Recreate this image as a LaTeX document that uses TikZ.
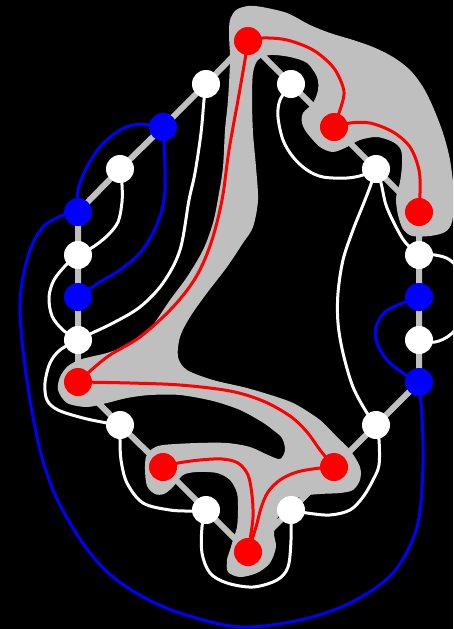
\documentclass[tikz,border=0pt]{standalone}
\definecolor{blobgray}{RGB}{191,191,191}
\definecolor{pred}{RGB}{255,0,0}
\definecolor{pblue}{RGB}{0,0,255}
\pgfdeclarelayer{back}
\pgfsetlayers{back,main}
\begin{document}
\begin{tikzpicture}[x=1pt,y=-1pt,
  vtx/.style={circle, minimum size=28pt, inner sep=0pt, draw=none},
  rv/.style={vtx, fill=pred},
  bv/.style={vtx, fill=pblue},
  wv/.style={vtx, fill=white},
  redc/.style={draw=pred, line width=3pt},
  whitec/.style={draw=white, line width=3pt},
  bluec/.style={draw=pblue, line width=3pt},
  edgeline/.style={draw=blobgray, line width=6pt, line join=round},
  smoothc/.style={smooth, tension=0.55}
]
\useasboundingbox (0,0) rectangle (453,629);
% vertices
\node[rv] (R1) at (248,41) {};
\node[wv] (W1) at (206,84) {};
\node[bv] (B1) at (163,127) {};
\node[wv] (W2) at (120,169) {};
\node[bv] (B2) at (78,212) {};
\node[wv] (W3) at (78,255) {};
\node[bv] (B3) at (78,297) {};
\node[wv] (W4) at (78,340) {};
\node[rv] (R2) at (78,382) {};
\node[wv] (W5) at (120,425) {};
\node[rv] (R3) at (163,467) {};
\node[wv] (W6) at (206,510) {};
\node[rv] (R4) at (248,552) {};
\node[wv] (W7) at (291,510) {};
\node[rv] (R5) at (334,467) {};
\node[wv] (W8) at (376,425) {};
\node[bv] (B4) at (419,382) {};
\node[wv] (W9) at (419,340) {};
\node[bv] (B5) at (419,297) {};
\node[wv] (W10) at (419,255) {};
\node[rv] (R6) at (419,212) {};
\node[wv] (W11) at (376,169) {};
\node[rv] (R7) at (334,127) {};
\node[wv] (W12) at (291,84) {};
\begin{pgfonlayer}{back}
\clip (0,0) rectangle (453,629);
\fill[black] (0,0) rectangle (453,629);
% gray region around the red tree
\fill[blobgray] plot[smooth cycle, tension=0.5] coordinates {
(230,20) (236,10) (248,6) (262,7) (287,13) (310,25) (330,33) (353,40) (373,47)
(393,57) (410,70) (423,87) (433,107) (443,133) (450,160) (454,195) (452,222)
(445,232) (430,236) (412,236) (403,229) (398,215) (396,198) (400,182) (402,165) (401,150)
(393,142) (377,137) (360,140) (347,147) (333,152) (320,147) (307,133) (302,123)
(303,113) (313,103) (318,90) (317,77) (307,63) (290,57) (270,55) (258,60)
(253,73) (252,100) (253,133) (256,167) (258,200) (253,227) (243,243) (227,267)
(207,293) (190,317) (180,337) (178,357) (187,370) (213,380) (247,388) (280,398)
(297,405) (320,420) (337,437) (350,450) (360,467) (360,480) (353,490) (340,493)
(320,494) (303,496) (288,503) (278,517) (274,533) (276,547) (270,563) (257,573)
(240,577) (228,572) (227,560) (230,550) (233,540) (237,527) (238,510) (237,493)
(230,480) (217,473) (197,472) (183,475) (173,487) (164,494) (155,494) (147,486)
(145,470) (146,457) (152,449) (163,445) (197,443) (227,443) (250,447) (268,455)
(280,459) (285,450) (282,438) (273,430) (262,422) (240,410) (213,401) (180,395)
(150,395) (127,398) (107,403) (87,407) (67,403) (58,390) (60,377) (68,366)
(82,359) (107,353) (123,347) (140,338) (153,325) (170,300) (187,277) (203,250)
(213,223) (219,193) (223,167) (225,130) (228,100) (230,60) (229,35)};
% polygon edges
\draw[edgeline] (R1.center) -- (W1.center) -- (B1.center) -- (W2.center) -- (B2.center)
  -- (W3.center) -- (B3.center) -- (W4.center) -- (R2.center) -- (W5.center)
  -- (R3.center) -- (W6.center) -- (R4.center) -- (W7.center) -- (R5.center)
  -- (W8.center) -- (B4.center) -- (W9.center) -- (B5.center) -- (W10.center)
  -- (R6.center) -- (W11.center) -- (R7.center) -- (W12.center) -- cycle;
% red connectors
\draw[redc] plot[smoothc] coordinates {(R1.center) (263,38) (287,40) (313,50) (333,67) (343,87) (343,100) (R7.center)};
\draw[redc] plot[smoothc] coordinates {(R7.center) (350,123) (370,123) (393,132) (410,147) (419,170) (420,193) (R6.center)};
\draw[redc] plot[smoothc] coordinates {(R1.center) (245,60) (238,100) (229,150) (222,200) (211,243) (196,277) (173,307) (140,337) (107,357) (R2.center)};
\draw[redc] plot[smoothc] coordinates {(R2.center) (130,383) (180,385) (230,391) (263,401) (290,416) (307,432) (320,450) (R5.center)};
\draw[redc] plot[smoothc] coordinates {(R3.center) (178,463) (200,460) (222,459) (238,463) (248,475) (252,495) (253,517) (250,540) (R4.center)};
\draw[redc] plot[smoothc] coordinates {(R5.center) (320,468) (297,472) (280,480) (268,492) (261,508) (256,527) (R4.center)};
% white connectors
\draw[whitec] plot[smoothc] coordinates {(W1.center) (204,100) (201,133) (195,173) (189,200) (180,250) (163,283) (140,307) (113,323) (90,334) (W4.center)};
\draw[whitec] plot[smoothc] coordinates {(W2.center) (122,185) (122,202) (118,222) (107,236) (93,247) (W3.center)};
\draw[whitec] plot[smoothc] coordinates {(W3.center) (66,265) (54,280) (49,297) (52,316) (63,330) (W4.center)};
\draw[whitec] plot[smoothc] coordinates {(W4.center) (60,350) (50,363) (45,383) (47,400) (58,410) (83,418) (107,423) (W5.center)};
\draw[whitec] plot[smoothc] coordinates {(W5.center) (120,440) (121,460) (127,483) (143,503) (170,510) (193,511) (W6.center)};
\draw[whitec] plot[smoothc] coordinates {(W6.center) (202,527) (202,553) (210,573) (227,583) (253,587) (277,580) (288,567) (291,540) (W7.center)};
\draw[whitec] plot[smoothc] coordinates {(W7.center) (307,513) (330,515) (350,510) (363,497) (373,480) (379,465) (379,440) (W8.center)};
\draw[whitec] plot[smoothc] coordinates {(W8.center) (367,413) (353,387) (343,353) (338,323) (338,293) (343,260) (353,230) (363,205) (370,187) (W11.center)};
\draw[whitec] plot[smoothc] coordinates {(W11.center) (381,183) (386,205) (395,225) (405,242) (W10.center)};
\draw[whitec] plot[smoothc] coordinates {(W11.center) (363,175) (347,178) (323,177) (307,170) (293,157) (283,140) (278,117) (280,100) (W12.center)};
\draw[whitec] plot[smoothc] coordinates {(W10.center) (435,255) (450,260) (462,275) (465,297) (462,320) (450,335) (435,342) (W9.center)};
% blue connectors
\draw[bluec] plot[smoothc] coordinates {(B1.center) (150,125) (133,125) (117,132) (100,147) (87,167) (78,190) (B2.center)};
\draw[bluec] plot[smoothc] coordinates {(B1.center) (164,140) (165,167) (165,190) (162,210) (153,233) (140,253) (120,270) (100,282) (B3.center)};
\draw[bluec] plot[smoothc] coordinates {(B2.center) (63,215) (43,227) (30,250) (22,283) (20,310) (23,350) (30,400) (40,450) (53,490) (70,523) (90,553) (113,577) (145,598) (183,614) (240,627) (300,620) (350,603) (393,573) (417,527) (423,467) (422,417) (B4.center)};
\draw[bluec] plot[smoothc] coordinates {(B5.center) (403,303) (385,312) (376,327) (377,343) (387,360) (403,373) (B4.center)};
\end{pgfonlayer}
\end{tikzpicture}
\end{document}
